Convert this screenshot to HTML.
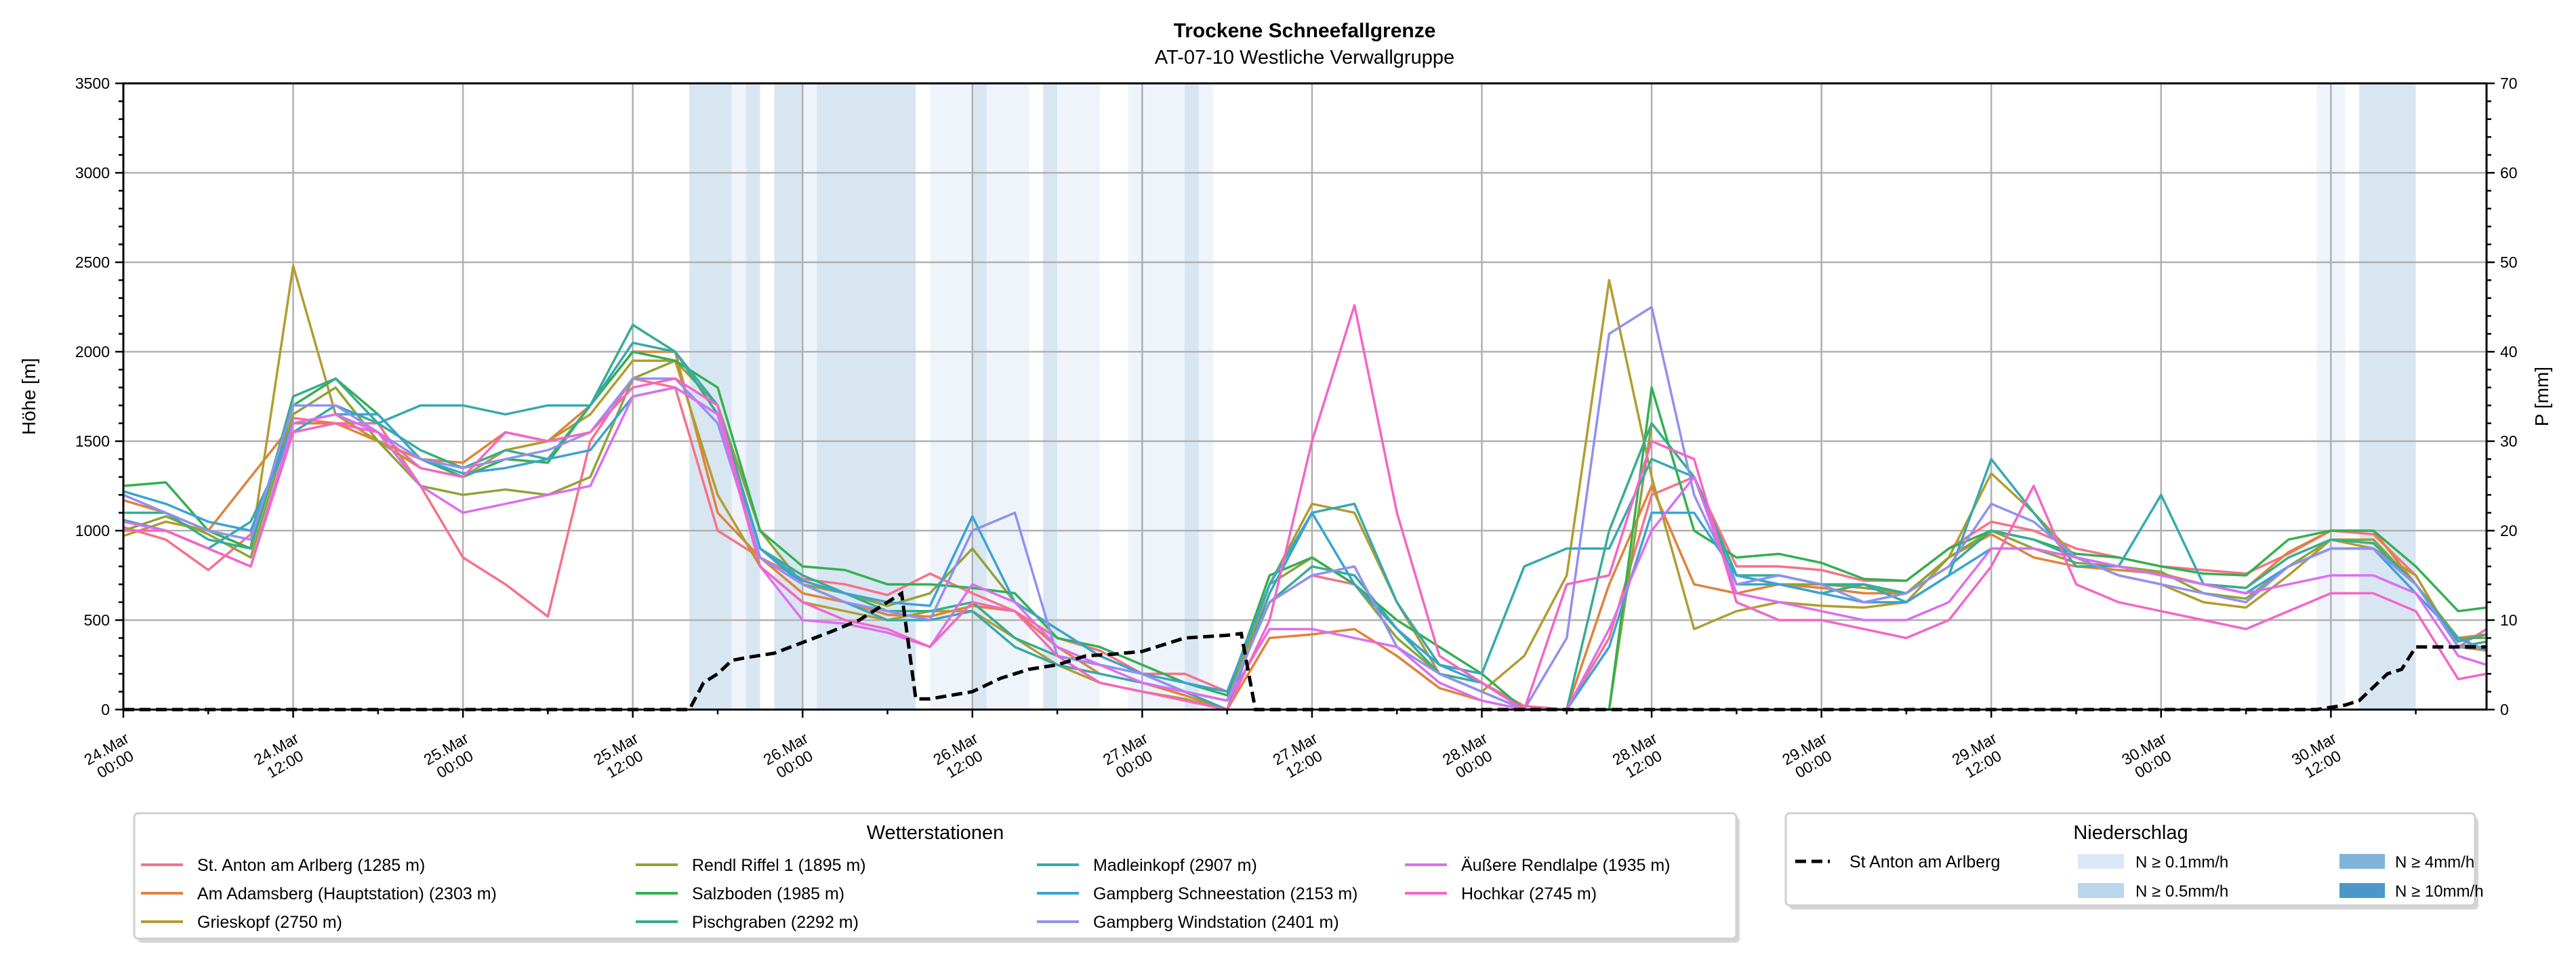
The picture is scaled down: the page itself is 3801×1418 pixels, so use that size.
<!DOCTYPE html>
<html><head><meta charset="utf-8"><style>
html,body{margin:0;padding:0;background:#fff;}
svg{display:block;font-family:"Liberation Sans","DejaVu Sans",sans-serif;}
</style></head><body>
<svg id="chart" width="3801" height="1418" viewBox="0 0 3801 1418" xmlns="http://www.w3.org/2000/svg">
<text x="1925" y="55" text-anchor="middle" font-size="30" font-weight="bold">Trockene Schneefallgrenze</text>
<text x="1925" y="94" text-anchor="middle" font-size="29">AT-07-10 Westliche Verwallgruppe</text>
<g id="bands"></g>
<g id="grid"></g>
<g id="series"></g>
<g id="precip"></g>
<g id="axes"></g>
<text transform="translate(52,585) rotate(-90)" text-anchor="middle" font-size="28">Höhe [m]</text>
<text transform="translate(3760,585) rotate(-90)" text-anchor="middle" font-size="28">P [mm]</text>
<g id="legend1">
<rect x="203" y="1206" width="2364" height="185" rx="6" fill="#d6d6d6"/>
<rect x="198" y="1200" width="2364" height="185" rx="6" fill="#fff" stroke="#d0d0d0" stroke-width="3"/>
<text x="1380" y="1238" text-anchor="middle" font-size="29">Wetterstationen</text>
</g>
<g id="legend2">
<rect x="2640" y="1206" width="1017" height="136" rx="6" fill="#d6d6d6"/>
<rect x="2635" y="1200" width="1017" height="136" rx="6" fill="#fff" stroke="#d0d0d0" stroke-width="3"/>
<text x="3144" y="1238" text-anchor="middle" font-size="29">Niederschlag</text>
<line x1="2649" y1="1271" x2="2700" y2="1271" stroke="#000" stroke-width="5" stroke-dasharray="16,8"/>
<text x="2729" y="1280" font-size="25">St Anton am Arlberg</text>
<rect x="3066" y="1260" width="68" height="22" fill="#dbe9f6"/>
<text x="3151" y="1280" font-size="24">N ≥ 0.1mm/h</text>
<rect x="3066" y="1303" width="68" height="22" fill="#bad6ea"/>
<text x="3151" y="1323" font-size="24">N ≥ 0.5mm/h</text>
<rect x="3452" y="1260" width="67" height="22" fill="#7fb4d8"/>
<text x="3534" y="1280" font-size="24">N ≥ 4mm/h</text>
<rect x="3452" y="1303" width="67" height="22" fill="#4a98c9"/>
<text x="3534" y="1323" font-size="24">N ≥ 10mm/h</text>
</g>
</svg>
<script>
const hours=[0,3,6,9,12,15,18,21,24,27,30,33,36,39,42,45,48,51,54,57,60,63,66,69,72,75,78,81,84,87,90,93,96,99,102,105,108,111,114,117,120,123,126,129,132,135,138,141,144,147,150,153,156,159,162,165,167];
const stationNames=["St. Anton am Arlberg (1285 m)","Am Adamsberg (Hauptstation) (2303 m)","Grieskopf (2750 m)","Rendl Riffel 1 (1895 m)","Salzboden (1985 m)","Pischgraben (2292 m)","Madleinkopf (2907 m)","Gampberg Schneestation (2153 m)","Gampberg Windstation (2401 m)","Äußere Rendlalpe (1935 m)","Hochkar (2745 m)"];
const stationColors=["#f77189","#e0823a","#b39c30","#8fa336","#33b050","#36ad8f","#36a9b0","#3ba3d4","#9190f0","#dc6ef0","#f565c6"];
const sStAnton=[1020,950,780,980,1630,1600,1600,1250,850,700,520,1500,1850,1800,1000,850,730,700,640,760,650,550,400,330,200,200,100,600,750,700,450,250,150,20,0,400,1200,1300,800,800,780,720,720,900,1050,1000,900,850,800,780,760,870,1000,980,750,350,450];
const sAdamsberg=[1170,1100,1000,1300,1600,1600,1500,1400,1380,1550,1500,1700,2000,2000,1100,850,650,600,530,520,580,550,350,200,150,80,0,400,420,450,300,120,50,0,0,700,1250,700,650,700,680,650,650,850,980,850,800,780,760,700,680,880,1000,1000,700,400,420];
const sGrieskopf=[970,1050,1000,900,2480,1650,1500,1350,1300,1450,1500,1650,1950,1950,1200,800,600,550,500,550,550,400,250,150,100,60,0,700,1150,1100,600,200,100,300,750,2400,1300,450,550,600,580,570,600,850,1320,1100,850,750,700,600,570,750,950,900,750,350,330];
const sRendl=[1000,1080,980,850,1650,1800,1500,1250,1200,1230,1200,1300,1850,1950,1700,1000,700,650,580,650,900,600,450,300,200,100,50,700,850,700,400,200,100,0,0,0,1600,1300,750,700,700,680,650,850,1000,900,820,800,770,650,620,800,950,950,700,400,400];
const sSalzboden=[1250,1270,1000,900,1700,1850,1650,1400,1300,1400,1380,1700,2000,1950,1800,1000,800,780,700,700,680,650,400,350,250,150,80,750,850,700,500,350,200,0,0,0,1800,1000,850,870,820,730,720,900,1000,950,870,850,800,760,750,950,1000,1000,800,550,570];
const sPischgraben=[1100,1100,950,900,1750,1850,1600,1450,1350,1450,1400,1700,2150,2000,1650,900,750,650,550,550,600,400,300,250,200,100,50,600,800,750,450,200,150,0,0,1000,1600,1300,750,750,700,700,650,800,1000,950,850,800,750,700,680,850,950,930,700,350,380];
const sMadleinkopf=[1060,1000,900,1050,1550,1700,1600,1700,1700,1650,1700,1700,2050,2000,1700,900,700,600,500,500,550,350,250,200,150,100,0,650,1100,1150,600,250,200,800,900,900,1400,1300,700,700,650,700,600,750,1400,1100,800,800,1200,700,650,800,900,900,700,380,420];
const sGampSchnee=[1220,1150,1050,1000,1600,1650,1650,1400,1320,1350,1400,1450,1750,1800,1650,900,720,650,600,580,1080,600,450,300,200,150,100,700,1100,700,450,250,150,0,0,350,1100,1100,750,700,650,600,600,750,900,900,850,800,750,700,650,800,900,900,650,400,330];
const sGampWind=[1200,1100,1000,950,1700,1700,1550,1400,1350,1400,1450,1550,1850,1850,1600,850,700,600,550,500,1000,1100,300,250,200,100,50,600,750,800,350,200,100,0,400,2100,2250,1200,700,750,700,600,650,800,1150,1050,850,750,700,650,600,800,900,900,700,350,350];
const sRendlalpe=[1050,1000,900,800,1600,1650,1550,1250,1100,1150,1200,1250,1750,1800,1650,800,500,480,430,350,700,600,350,250,150,100,50,450,450,400,350,150,50,0,0,450,1000,1300,650,600,550,500,500,600,900,900,850,800,750,700,650,700,750,750,650,300,250];
const sHochkar=[1000,1000,900,800,1550,1600,1550,1350,1300,1550,1500,1550,1800,1850,1700,800,600,500,450,350,600,550,300,150,100,50,0,500,1500,2260,1100,300,150,0,700,750,1500,1400,600,500,500,450,400,500,800,1250,700,600,550,500,450,550,650,650,550,170,200];
const seriesValues=[sStAnton,sAdamsberg,sGrieskopf,sRendl,sSalzboden,sPischgraben,sMadleinkopf,sGampSchnee,sGampWind,sRendlalpe,sHochkar];
const precipHours=[0,40,41,42,43,44,46,48,50,52,55,56,57,60,62,64,66,68,70,72,75,78,79,80,155,157,158,160,161,162,167];
const precipVals=[0,0,3,4,5.5,5.8,6.3,7.5,8.7,10,13,1.2,1.2,2,3.5,4.5,5,6,6.2,6.5,8,8.3,8.5,0,0,0.5,1,4,4.5,7,7];
const bandStarts=[40,43,44,46,48,49,57,60,61,65,66,71,75,76,155,158];
const bandEnds=[43,44,45,48,49,56,60,61,64,66,69,75,76,77,157,162];
const bandLevels=[1,0,1,1,0,1,0,1,0,1,0,0,1,0,0,1];
const xTickHours=[0,12,24,36,48,60,72,84,96,108,120,132,144,156];
const xTickLabels=[["24.Mar","00:00"],["24.Mar","12:00"],["25.Mar","00:00"],["25.Mar","12:00"],["26.Mar","00:00"],["26.Mar","12:00"],["27.Mar","00:00"],["27.Mar","12:00"],["28.Mar","00:00"],["28.Mar","12:00"],["29.Mar","00:00"],["29.Mar","12:00"],["30.Mar","00:00"],["30.Mar","12:00"]];
const yTicks=[0,500,1000,1500,2000,2500,3000,3500];
const y2Ticks=[0,10,20,30,40,50,60,70];

const L=182,R=3669,T=123,B=1047,HMAX=167;
const xs=h=>L+h*(R-L)/HMAX;
const ys=v=>B-v*(B-T)/3500;
const y2s=v=>B-v*(B-T)/70;
const NS="http://www.w3.org/2000/svg";
function mk(tag,parent){const e=document.createElementNS(NS,tag);parent.appendChild(e);return e;}
const gB=document.getElementById('bands'),gG=document.getElementById('grid'),gS=document.getElementById('series'),gP=document.getElementById('precip'),gA=document.getElementById('axes'),gL=document.getElementById('legend1');
bandStarts.forEach((s,i)=>{const r=mk('rect',gB);


r.setAttribute('x',xs(s));r.setAttribute('y',T);r.setAttribute('width',xs(bandEnds[i])-xs(s));r.setAttribute('height',B-T);r.setAttribute('fill',bandLevels[i]?'#d8e6f2':'#eef4fa');});
xTickHours.forEach(h=>{const l=mk('line',gG);


l.setAttribute('x1',xs(h));l.setAttribute('x2',xs(h));l.setAttribute('y1',T);l.setAttribute('y2',B);l.setAttribute('stroke','#b0b0b0');l.setAttribute('stroke-width','2.5');});
yTicks.forEach(v=>{const l=mk('line',gG);


l.setAttribute('x1',L);l.setAttribute('x2',R);l.setAttribute('y1',ys(v));l.setAttribute('y2',ys(v));l.setAttribute('stroke','#b0b0b0');l.setAttribute('stroke-width','2.5');});
seriesValues.forEach((vals,i)=>{const p=mk('polyline',gS);


p.setAttribute('points',vals.map((v,j)=>xs(hours[j]).toFixed(1)+','+ys(v).toFixed(1)).join(' '));
p.setAttribute('fill','none');p.setAttribute('stroke',stationColors[i]);p.setAttribute('stroke-width','3.5');p.setAttribute('stroke-linejoin','round');});
{const p=mk('polyline',gP);


p.setAttribute('points',precipHours.map((h,j)=>xs(h).toFixed(1)+','+y2s(precipVals[j]).toFixed(1)).join(' '));
p.setAttribute('fill','none');p.setAttribute('stroke','#000');p.setAttribute('stroke-width','5');p.setAttribute('stroke-dasharray','16,8');}
{const r=mk('rect',gA);


r.setAttribute('x',L);r.setAttribute('y',T);r.setAttribute('width',R-L);r.setAttribute('height',B-T);r.setAttribute('fill','none');r.setAttribute('stroke','#000');r.setAttribute('stroke-width','3');}
function tick(x1,y1,x2,y2){const l=mk('line',gA);l.setAttribute('x1',x1);l.setAttribute('y1',y1);l.setAttribute('x2',x2);l.setAttribute('y2',y2);l.setAttribute('stroke','#000');l.setAttribute('stroke-width','2.5');return l;}
for(let v=0;v<=3500;v+=100){tick(L,ys(v),L-(v%500?7:12),ys(v));}
for(let v=0;v<=70;v+=2){tick(R,y2s(v),R+(v%10?7:12),y2s(v));}
for(let h=0;h<=HMAX;h+=6){tick(xs(h),B,xs(h),B+(h%12?7:12));}
yTicks.forEach(v=>{const t=mk('text',gA);


t.setAttribute('x',L-20);t.setAttribute('y',ys(v)+8);t.setAttribute('text-anchor','end');t.setAttribute('font-size','23');t.textContent=v;});
y2Ticks.forEach(v=>{const t=mk('text',gA);


t.setAttribute('x',R+20);t.setAttribute('y',y2s(v)+8);t.setAttribute('font-size','23');t.textContent=v;});
xTickHours.forEach((h,i)=>{const t=mk('text',gA);


t.setAttribute('transform','translate('+(xs(h)-18)+',1117) rotate(-30)');t.setAttribute('text-anchor','middle');t.setAttribute('font-size','23');
const a=mk('tspan',t);a.setAttribute('x',0);a.setAttribute('y',-6);a.textContent=xTickLabels[i][0];
const b=mk('tspan',t);b.setAttribute('x',0);b.setAttribute('y',20);b.textContent=xTickLabels[i][1];});
const colX=[208,938,1530,2073],rowY=[1276,1318,1360];
stationNames.forEach((n,i)=>{const c=Math.floor(i/3),r=i%3;
const g=mk('g',gL);


const l=mk('line',g);l.setAttribute('x1',colX[c]);l.setAttribute('x2',colX[c]+62);l.setAttribute('y1',rowY[r]);l.setAttribute('y2',rowY[r]);l.setAttribute('stroke',stationColors[i]);l.setAttribute('stroke-width','4');
const t=mk('text',g);t.setAttribute('x',colX[c]+83);t.setAttribute('y',rowY[r]+9);t.setAttribute('font-size','25');t.textContent=n;});
</script>
</body></html>
